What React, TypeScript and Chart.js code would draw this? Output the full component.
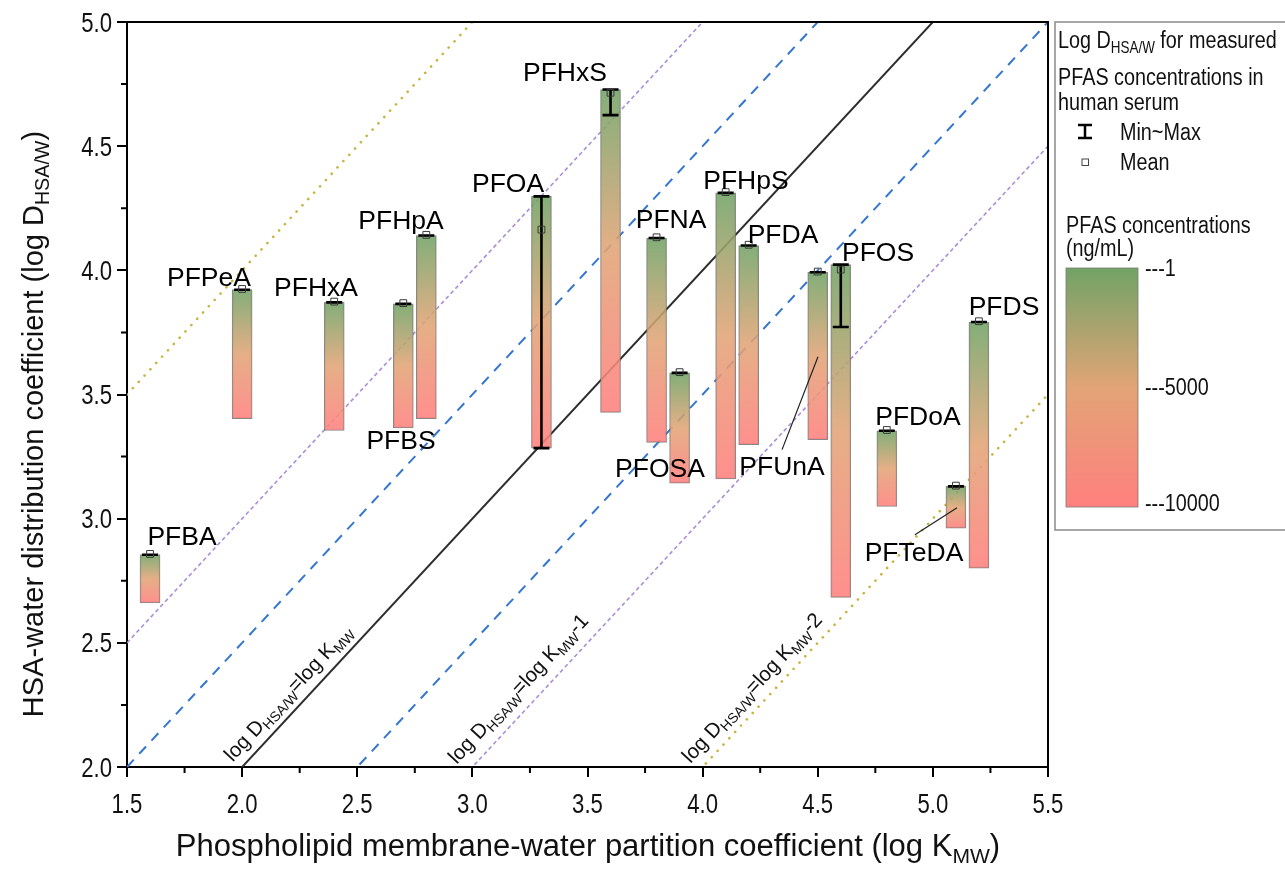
import React, { useEffect, useRef } from 'react';
import { Chart, registerables } from 'chart.js';
Chart.register(...registerables);

const FONT = "'Liberation Sans', Arial, Helvetica, sans-serif";

// ---------- data ----------
const compounds = ['PFBA', 'PFPeA', 'PFHxA', 'PFBS', 'PFHpA', 'PFOA', 'PFHxS', 'PFNA', 'PFOSA', 'PFHpS', 'PFDA', 'PFUnA', 'PFOS', 'PFDoA', 'PFTeDA', 'PFDS'];
const logKmw = [1.6, 2.0, 2.4, 2.7, 2.8, 3.3, 3.6, 3.8, 3.9, 4.1, 4.2, 4.5, 4.6, 4.8, 5.1, 5.2];
const logDTop = [2.855, 3.922, 3.871, 3.865, 4.14, 4.298, 4.728, 4.13, 3.587, 4.312, 4.1, 3.992, 4.023, 3.354, 3.13, 3.792];
const logDBottom = [2.661, 3.403, 3.355, 3.365, 3.403, 3.284, 3.428, 3.307, 3.143, 3.16, 3.298, 3.318, 2.683, 3.049, 2.962, 2.801];
const logDMin = [2.855, 3.922, 3.871, 3.865, 4.14, 3.284, 4.625, 4.13, 3.587, 4.312, 4.1, 3.992, 3.772, 3.354, 3.13, 3.792];
const logDMax = [2.855, 3.922, 3.871, 3.865, 4.14, 4.298, 4.728, 4.13, 3.587, 4.312, 4.1, 3.992, 4.023, 3.354, 3.13, 3.792];
const logDMean = [2.858, 3.925, 3.874, 3.868, 4.143, 4.164, 4.715, 4.133, 3.59, 4.315, 4.103, 3.995, 4.003, 3.357, 3.133, 3.795];

// label anchor (centre of text) in data units
const labelX = [1.739, 1.856, 2.321, 2.69, 2.69, 3.155, 3.402, 3.863, 3.815, 4.188, 4.349, 4.345, 4.762, 4.935, 4.918, 5.309];
const labelY = [2.931, 3.975, 3.934, 3.318, 4.204, 4.353, 4.799, 4.208, 3.205, 4.365, 4.148, 3.213, 4.075, 3.415, 2.867, 3.858];

// leader lines [x1, y1, x2, y2] in data units
const leaderNames = ['PFUnA', 'PFTeDA'];
const leaderLines = [
  [4.345, 3.278, 4.501, 3.652],
  [4.922, 2.935, 5.105, 3.044],
];

const xTicks = [1.5, 2.0, 2.5, 3.0, 3.5, 4.0, 4.5, 5.0, 5.5];
const xTickLabels = ['1.5', '2.0', '2.5', '3.0', '3.5', '4.0', '4.5', '5.0', '5.5'];
const xMinorTicks = [1.75, 2.25, 2.75, 3.25, 3.75, 4.25, 4.75, 5.25];
const yTicks = [2.0, 2.5, 3.0, 3.5, 4.0, 4.5, 5.0];
const yTickLabels = ['2.0', '2.5', '3.0', '3.5', '4.0', '4.5', '5.0'];
const yMinorTicks = [2.25, 2.75, 3.25, 3.75, 4.25, 4.75];

// reference lines log D = log K + offset
const refOffsets = [2, 1, 0.5, 0, -0.5, -1, -2];
const refKinds = ['dot', 'purple', 'blue', 'solid', 'blue', 'purple', 'dot'];
const refLabelOffsets = [0, -1, -2];
const refLabelSuffix = ['', '-1', '-2'];

const colorbarLabels = ['1', '5000', '10000'];

// ---------- styles ----------
const KIND_STYLE: Record<string, any> = {
  dot: { color: 'rgba(196,176,52,0.95)', width: 2.6, dash: [0.1, 8.5], cap: 'round' },
  purple: { color: 'rgba(165,135,215,0.95)', width: 1.6, dash: [4, 3], cap: 'butt' },
  blue: { color: 'rgba(52,118,208,1)', width: 2, dash: [10, 8], cap: 'butt' },
  solid: { color: 'rgba(45,45,45,1)', width: 2, dash: [], cap: 'butt' },
};

const GRAD = [
  [0, 'rgba(114,163,102,A)'],
  [0.5, 'rgba(226,164,118,A)'],
  [1, 'rgba(255,128,126,A)'],
];

function makeGrad(ctx: CanvasRenderingContext2D, y0: number, y1: number, a: number) {
  const g = ctx.createLinearGradient(0, y0, 0, y1);
  GRAD.forEach(([s, c]) => g.addColorStop(s as number, (c as string).replace('A', String(a))));
  return g;
}

type Seg = { t: string; sub?: boolean };

function segWidth(ctx: CanvasRenderingContext2D, segs: Seg[], size: number) {
  let w = 0;
  for (const s of segs) {
    ctx.font = `${s.sub ? size * 0.68 : size}px ${FONT}`;
    w += ctx.measureText(s.t).width;
  }
  return w;
}

function drawRich(ctx: CanvasRenderingContext2D, segs: Seg[], x: number, y: number, size: number,
  align: 'left' | 'center' | 'right' = 'left', hscale = 1, rot = 0) {
  ctx.save();
  ctx.translate(x, y);
  if (rot) ctx.rotate(rot);
  ctx.scale(hscale, 1);
  ctx.textAlign = 'left';
  ctx.textBaseline = 'alphabetic';
  const total = segWidth(ctx, segs, size);
  let cx = align === 'center' ? -total / 2 : align === 'right' ? -total : 0;
  for (const s of segs) {
    ctx.font = `${s.sub ? size * 0.68 : size}px ${FONT}`;
    ctx.fillText(s.t, cx, s.sub ? size * 0.22 : 0);
    cx += ctx.measureText(s.t).width;
  }
  ctx.restore();
}

const BAR_INDEX = refOffsets.length;

const decor = {
  id: 'decor',
  afterDatasetDraw(chart: any, args: any) {
    if (args.index !== BAR_INDEX) return;
    const { ctx, scales } = chart;
    const xs = scales.x, ys = scales.y;
    ctx.save();
    ctx.strokeStyle = '#000';
    ctx.lineWidth = 2.6;
    ctx.lineCap = 'butt';
    logKmw.forEach((k, i) => {
      const px = xs.getPixelForValue(k);
      const y1 = ys.getPixelForValue(logDMax[i]);
      const y2 = ys.getPixelForValue(logDMin[i]);
      ctx.beginPath();
      ctx.moveTo(px, y1); ctx.lineTo(px, y2);
      ctx.moveTo(px - 8, y1); ctx.lineTo(px + 8, y1);
      ctx.moveTo(px - 8, y2); ctx.lineTo(px + 8, y2);
      ctx.stroke();
    });
    ctx.restore();
  },
  afterDraw(chart: any) {
    const { ctx, scales, chartArea } = chart;
    const xs = scales.x, ys = scales.y;
    const { left, right, top, bottom } = chartArea;
    ctx.save();
    // frame top / right
    ctx.strokeStyle = '#000';
    ctx.lineWidth = 2;
    ctx.beginPath();
    ctx.moveTo(left - 1, top); ctx.lineTo(right, top); ctx.lineTo(right, bottom + 1);
    ctx.stroke();
    // minor ticks
    ctx.beginPath();
    xMinorTicks.forEach((v) => { const p = xs.getPixelForValue(v); ctx.moveTo(p, bottom); ctx.lineTo(p, bottom + 6); });
    yMinorTicks.forEach((v) => { const p = ys.getPixelForValue(v); ctx.moveTo(left, p); ctx.lineTo(left - 6, p); });
    ctx.stroke();

    // tick labels
    ctx.fillStyle = '#111';
    xTicks.forEach((v, i) => {
      drawRich(ctx, [{ t: xTickLabels[i] }], xs.getPixelForValue(v), bottom + 46, 27, 'center', 0.82);
    });
    yTicks.forEach((v, i) => {
      drawRich(ctx, [{ t: yTickLabels[i] }], left - 15, ys.getPixelForValue(v) + 9.5, 27, 'right', 0.82);
    });

    // axis titles
    drawRich(ctx, [
      { t: 'Phospholipid membrane-water partition coefficient (log K' },
      { t: 'MW', sub: true },
      { t: ')' },
    ], 588, bottom + 89, 31, 'center');
    drawRich(ctx, [
      { t: 'HSA-water distribution coefficient (log D' },
      { t: 'HSA/W', sub: true },
      { t: ')' },
    ], 43, 424, 29, 'center', 1, -Math.PI / 2);

    // compound labels
    ctx.fillStyle = '#000';
    compounds.forEach((c, i) => {
      drawRich(ctx, [{ t: c }], xs.getPixelForValue(labelX[i]), ys.getPixelForValue(labelY[i]) + 9.5, 26.5, 'center');
    });
    // leader lines
    ctx.strokeStyle = '#222';
    ctx.lineWidth = 1.2;
    leaderLines.forEach((l) => {
      ctx.beginPath();
      ctx.moveTo(xs.getPixelForValue(l[0]), ys.getPixelForValue(l[1]));
      ctx.lineTo(xs.getPixelForValue(l[2]), ys.getPixelForValue(l[3]));
      ctx.stroke();
    });

    // reference line labels
    const p1x = xs.getPixelForValue(2), p1y = ys.getPixelForValue(2);
    const p2x = xs.getPixelForValue(5), p2y = ys.getPixelForValue(5);
    const ang = Math.atan2(p2y - p1y, p2x - p1x);
    const ux = Math.cos(ang), uy = Math.sin(ang);
    const nx = Math.sin(ang), ny = -Math.cos(ang);
    const along = [-3, -9, -6];
    const perp = [10, 13, 11];
    ctx.fillStyle = '#111';
    refLabelOffsets.forEach((k, i) => {
      const bx = xs.getPixelForValue(2 - k), by = ys.getPixelForValue(2);
      const sx = bx + along[i] * ux + perp[i] * nx;
      const sy = by + along[i] * uy + perp[i] * ny;
      drawRich(ctx, [
        { t: 'log D' }, { t: 'HSA/W', sub: true }, { t: '=log K' }, { t: 'MW', sub: true }, { t: refLabelSuffix[i] },
      ], sx, sy, 20.5, 'left', 1, ang);
    });

    // ---------- legend box ----------
    const lx = right + 7;
    ctx.strokeStyle = '#8a8a8a';
    ctx.lineWidth = 1.5;
    ctx.strokeRect(lx, top, 260, 508);
    ctx.fillStyle = '#111';
    const LF = 23, HS = 0.86;
    drawRich(ctx, [{ t: 'Log D' }, { t: 'HSA/W', sub: true }, { t: ' for measured' }], lx + 3, 48, LF, 'left', HS);
    drawRich(ctx, [{ t: 'PFAS concentrations in' }], lx + 3, 85, LF, 'left', HS);
    drawRich(ctx, [{ t: 'human serum' }], lx + 3, 110, LF, 'left', HS);
    // min-max symbol
    ctx.strokeStyle = '#000';
    ctx.lineWidth = 2.5;
    ctx.beginPath();
    ctx.moveTo(lx + 30, 125); ctx.lineTo(lx + 30, 138);
    ctx.moveTo(lx + 23, 125); ctx.lineTo(lx + 37, 125);
    ctx.moveTo(lx + 23, 138); ctx.lineTo(lx + 37, 138);
    ctx.stroke();
    drawRich(ctx, [{ t: 'Min~Max' }], lx + 65, 140, LF, 'left', HS);
    ctx.strokeStyle = '#444';
    ctx.lineWidth = 1;
    ctx.strokeRect(lx + 27, 159, 6.5, 6.5);
    drawRich(ctx, [{ t: 'Mean' }], lx + 65, 170, LF, 'left', HS);
    drawRich(ctx, [{ t: 'PFAS concentrations' }], lx + 11, 233, LF, 'left', HS);
    drawRich(ctx, [{ t: '(ng/mL)' }], lx + 11, 256, LF, 'left', HS);
    // colour bar
    const cbT = 268, cbB = 507, cbL = lx + 11, cbR = lx + 83;
    ctx.fillStyle = makeGrad(ctx, cbT, cbB, 1);
    ctx.fillRect(cbL, cbT, cbR - cbL, cbB - cbT);
    ctx.strokeStyle = 'rgba(120,120,120,0.8)';
    ctx.lineWidth = 1;
    ctx.strokeRect(cbL, cbT, cbR - cbL, cbB - cbT);
    ctx.fillStyle = '#111';
    const cbPos = [cbT, (cbT + cbB) / 2 - 1, cbB - 4];
    colorbarLabels.forEach((t, i) => {
      drawRich(ctx, [{ t: '---' + t }], cbR + 7, cbPos[i] + 8, LF, 'left', HS);
    });
    ctx.restore();
  },
};

export default function App() {
  const ref = useRef<HTMLCanvasElement | null>(null);
  useEffect(() => {
    if (!ref.current) return;
    document.body.style.margin = '0';
    const lineSets = refOffsets.map((k, i) => {
      const s = KIND_STYLE[refKinds[i]];
      return {
        type: 'line' as const,
        data: [{ x: 1.5, y: 1.5 + k }, { x: 5.5, y: 5.5 + k }],
        borderColor: s.color,
        borderWidth: s.width,
        borderDash: s.dash,
        borderCapStyle: s.cap,
        pointRadius: 0,
        showLine: true,
        fill: false,
        tension: 0,
        order: 10,
      };
    });
    const chart = new Chart(ref.current, {
      type: 'scatter',
      data: {
        datasets: [
          ...lineSets,
          {
            type: 'bar' as const,
            data: logKmw.map((x, i) => ({ x, y: [logDBottom[i], logDTop[i]] })),
            barThickness: 20,
            grouped: false,
            borderSkipped: false,
            borderWidth: 1,
            borderColor: 'rgba(115,115,115,0.85)',
            backgroundColor: (c: any) => {
              const ch = c.chart;
              if (!ch.chartArea || c.dataIndex === undefined) return 'rgba(220,160,120,0.9)';
              const ys = ch.scales.y;
              const i = c.dataIndex;
              return makeGrad(ch.ctx, ys.getPixelForValue(logDTop[i]), ys.getPixelForValue(logDBottom[i]), 0.88);
            },
            order: 5,
          } as any,
          {
            type: 'scatter' as const,
            data: logKmw.map((x, i) => ({ x, y: logDMean[i] })),
            pointStyle: 'rect',
            pointRadius: 4.8,
            backgroundColor: 'rgba(0,0,0,0)',
            borderColor: '#3a3a3a',
            borderWidth: 1,
            order: 1,
          },
        ],
      },
      options: {
        responsive: false,
        animation: false,
        events: [],
        layout: { padding: { left: 0, top: 22, right: 237, bottom: 0 } },
        plugins: { legend: { display: false }, tooltip: { enabled: false } },
        scales: {
          x: {
            type: 'linear',
            min: 1.5,
            max: 5.5,
            offset: false,
            afterBuildTicks: (s: any) => { s.ticks = xTicks.map((v) => ({ value: v })); },
            afterFit: (s: any) => { s.height = 102; },
            ticks: { display: false },
            grid: { drawOnChartArea: false, drawTicks: true, tickLength: 10, tickWidth: 2, tickColor: '#000', color: '#000', lineWidth: 2, offset: false },
            border: { display: true, color: '#000', width: 2 },
          },
          y: {
            type: 'linear',
            min: 2,
            max: 5,
            afterBuildTicks: (s: any) => { s.ticks = yTicks.map((v) => ({ value: v })); },
            afterFit: (s: any) => { s.width = 127; },
            ticks: { display: false },
            grid: { drawOnChartArea: false, drawTicks: true, tickLength: 10, tickWidth: 2, tickColor: '#000', color: '#000', lineWidth: 2 },
            border: { display: true, color: '#000', width: 2 },
          },
        },
      } as any,
      plugins: [decor as any],
    });
    return () => chart.destroy();
  }, []);
  return (
    <div style={{ position: 'absolute', left: 0, top: 0, width: 1285, height: 869, background: '#fff' }}>
      <canvas ref={ref} width={1285} height={869} style={{ display: 'block' }} />
    </div>
  );
}
